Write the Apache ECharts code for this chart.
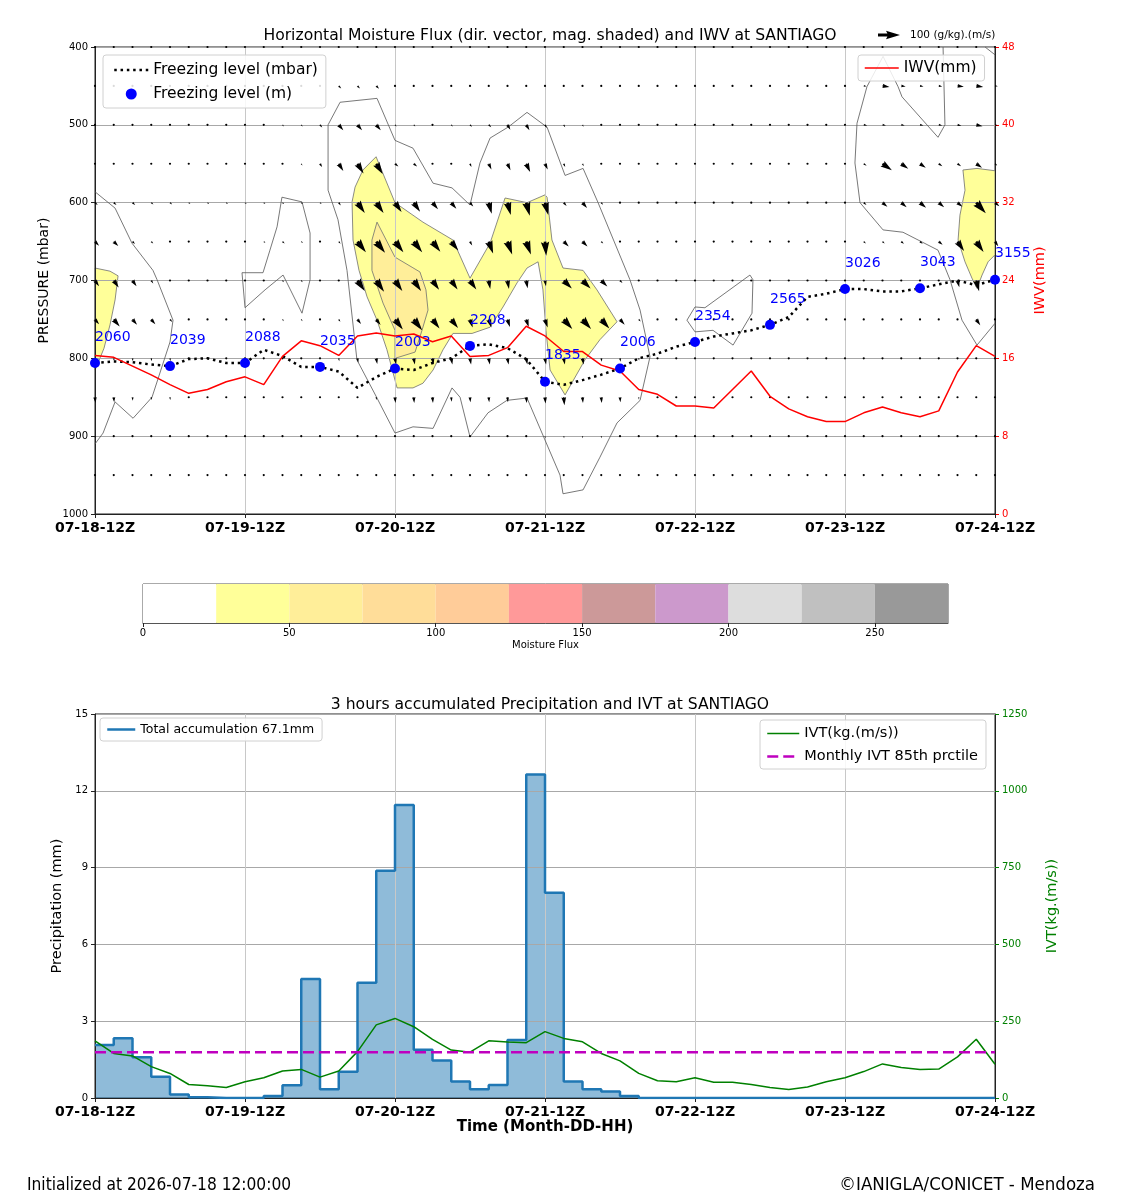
<!DOCTYPE html>
<html>
<head>
<meta charset="utf-8">
<title>Moisture flux, IWV and IVT - SANTIAGO</title>
<script src="https://cdn.jsdelivr.net/npm/echarts@6/dist/echarts.min.js"></script>
<style>
  html, body { margin: 0; padding: 0; background: #fff; }
  #chart { width: 1125px; height: 1200px; }
</style>
</head>
<body>
<div id="chart"></div>
<script>
// time axis: 3-hourly steps, index 0..48 (07-18-12Z .. 07-24-12Z)
const dayLabels = ['07-18-12Z', '07-19-12Z', '07-20-12Z', '07-21-12Z', '07-22-12Z', '07-23-12Z', '07-24-12Z'];

// pressure levels of the vector rows (mbar)
const pressureLevels = [400, 450, 500, 550, 600, 650, 700, 750, 800, 850, 900, 950];

// moisture flux magnitude per row (one value per 3h column, 0..48)
const fluxMag = [
  [3,3,3,3,3,3,3,3,3,3, 3,3,3,3,3,3,3,3,3,3, 3,3,3,3,3,3,3,3,3,3, 3,3,3,3,3,3,3,3,3,3, 4,4,4,4,4,4,4,4,4],
  [3,3,3,3,3,3,3,3,3,3, 3,3,3,16,16,18,4,4,4,4, 4,4,4,4,3,3,3,3,3,3, 3,3,3,3,3,3,3,3,3,3, 3,13,32,20,16,16,29,32,13],
  [4,4,4,4,4,4,4,4,4,4, 10,10,16,32,32,32,10,10,8,10, 13,16,26,29,16,13,10,4,4,4, 4,4,4,4,4,4,4,4,4,4, 4,16,16,16,16,16,18,29,13],
  [4,4,4,4,4,4,4,4,4,4, 4,10,18,39,52,55,20,20,8,8, 16,29,32,42,29,16,13,4,4,4, 4,4,4,4,4,4,4,4,4,4, 6,16,52,39,32,20,20,32,13],
  [16,16,16,13,13,10,10,10,10,10, 10,10,10,16,58,58,52,50,39,36, 23,52,58,62,58,20,32,13,4,4, 4,4,4,4,4,4,4,4,4,4, 4,16,29,32,36,32,29,65,26],
  [26,29,16,13,6,6,6,6,6,10, 13,10,6,13,62,65,62,62,58,52, 20,58,62,62,65,32,32,13,4,4, 4,4,4,4,4,4,4,4,4,4, 4,13,13,16,16,23,52,58,26],
  [32,39,32,16,6,6,6,6,6,6, 10,10,6,8,58,62,58,58,52,50, 50,39,39,36,26,52,52,39,16,4, 4,4,4,4,4,4,4,4,4,4, 4,4,4,4,4,4,32,50,13],
  [29,42,32,29,16,6,6,6,6,6, 10,10,6,13,26,32,58,62,52,50, 39,39,36,36,39,58,58,55,32,13, 4,4,4,4,4,4,4,4,4,4, 4,4,4,4,4,4,8,32,6],
  [13,13,13,13,13,4,4,4,4,4, 4,4,4,13,20,26,29,29,29,29, 29,29,29,29,29,29,29,16,16,10, 4,4,4,4,4,4,4,4,4,4, 4,4,4,4,4,4,4,4,4],
  [26,23,16,13,13,4,4,4,4,4, 4,4,4,4,4,13,26,26,26,20, 23,23,23,26,29,36,26,26,23,10, 4,4,4,4,4,4,4,4,4,4, 4,4,4,4,4,4,4,4,8],
  [10,4,4,4,4,4,4,4,4,4, 4,4,4,4,4,4,4,4,4,4, 4,4,4,4,10,10,10,10,4,4, 4,4,4,4,4,4,4,4,4,4, 4,4,4,4,4,4,4,4,4],
  [3,3,3,3,3,3,3,3,3,3, 3,3,3,3,3,3,3,3,3,3, 3,3,3,3,3,8,8,3,3,3, 3,3,3,3,3,3,3,3,3,3, 3,3,3,3,3,3,3,3,3]
];

// arrow direction per row, degrees from east (negative = pointing down / southward)
const fluxDir = [
  [-20,-20,-20,-20,-20,-20,-20,-20,-20,-20, -20,-20,-20,-20,-20,-20,-20,-20,-20,-20, -20,-20,-20,-20,-20,-20,-20,-20,-20,-20, -20,-20,-20,-20,-20,-20,-20,-20,-20,-20, -20,-8,-8,-8,-8,-8,-8,-8,-8],
  [-30,-30,-30,-30,-30,-30,-30,-30,-30,-30, -30,-30,-30,-45,-45,-45,-40,-40,-40,-40, -40,-40,-40,-40,-20,-20,-20,-20,-20,-20, -20,-20,-20,-20,-20,-20,-20,-20,-20,-20, -20,-8,-8,-8,-8,-8,-8,-8,-8],
  [-30,-30,-30,-30,-30,-30,-30,-30,-30,-30, -50,-50,-50,-50,-50,-50,-45,-45,-45,-45, -45,-45,-60,-60,-60,-60,-60,-20,-20,-20, -20,-20,-20,-20,-20,-20,-20,-20,-20,-20, -20,-12,-12,-12,-12,-12,-12,-12,-12],
  [-30,-30,-30,-30,-30,-30,-30,-30,-30,-30, -30,-58,-58,-58,-58,-58,-40,-40,-40,-40, -65,-65,-65,-65,-65,-65,-65,-30,-30,-30, -30,-30,-30,-30,-30,-30,-30,-30,-30,-30, -35,-35,-35,-35,-35,-35,-35,-35,-35],
  [-40,-40,-40,-40,-40,-40,-40,-40,-40,-40, -40,-40,-40,-55,-55,-55,-55,-55,-50,-50, -50,-75,-75,-75,-75,-50,-50,-50,-30,-30, -30,-30,-30,-30,-30,-30,-30,-30,-30,-30, -30,-40,-40,-40,-40,-40,-40,-48,-40],
  [-45,-45,-45,-45,-40,-40,-40,-40,-40,-40, -40,-40,-40,-52,-52,-52,-52,-52,-52,-52, -60,-70,-70,-70,-85,-45,-45,-45,-30,-30, -30,-30,-30,-30,-30,-30,-30,-30,-30,-30, -30,-40,-40,-40,-40,-40,-55,-55,-55],
  [-55,-55,-55,-55,-50,-50,-50,-50,-50,-50, -50,-50,-50,-50,-55,-55,-55,-55,-55,-55, -55,-80,-80,-80,-80,-45,-45,-45,-45,-40, -40,-40,-40,-40,-40,-40,-40,-40,-40,-40, -40,-40,-40,-40,-40,-40,-75,-75,-75],
  [-50,-50,-50,-50,-50,-55,-55,-55,-55,-55, -55,-55,-55,-55,-52,-52,-52,-52,-52,-52, -72,-72,-72,-72,-72,-48,-48,-48,-48,-48, -45,-45,-45,-45,-45,-45,-45,-45,-45,-45, -45,-45,-45,-45,-45,-45,-55,-55,-55],
  [-80,-80,-80,-80,-80,-80,-80,-80,-80,-80, -80,-80,-80,-80,-80,-80,-80,-80,-80,-80, -80,-80,-80,-80,-80,-80,-80,-80,-80,-80, -80,-80,-80,-80,-80,-80,-80,-80,-80,-80, -80,-80,-80,-80,-80,-80,-80,-80,-80],
  [-85,-85,-85,-85,-85,-85,-85,-85,-85,-85, -85,-85,-85,-85,-85,-85,-85,-85,-85,-85, -85,-85,-85,-85,-85,-85,-85,-85,-85,-85, -85,-85,-85,-85,-85,-85,-85,-85,-85,-85, -85,-85,-85,-85,-85,-85,-85,-85,-85],
  [-80,-80,-80,-80,-80,-80,-80,-80,-80,-80, -80,-80,-80,-80,-80,-80,-80,-80,-80,-80, -80,-80,-80,-80,-80,-80,-80,-80,-80,-80, -80,-80,-80,-80,-80,-80,-80,-80,-80,-80, -80,-80,-80,-80,-80,-80,-80,-80,-80],
  [-60,-60,-60,-60,-60,-60,-60,-60,-60,-60, -60,-60,-60,-60,-60,-60,-60,-60,-60,-60, -60,-60,-60,-60,-60,-60,-60,-60,-60,-60, -60,-60,-60,-60,-60,-60,-60,-60,-60,-60, -60,-60,-60,-60,-60,-60,-60,-60,-60]
];

// shaded flux areas, vertices as [time index, pressure]
const fluxAbove25 = [
  [[0,684],[0.8,688],[1.23,694],[1.07,725],[0.8,757],[0.48,787],[0.11,809],[0,815]],
  [[14.99,541],[16,600],[17.49,625],[19.09,648],[20,697],[21.07,652],[21.87,594],[23.04,600],[24,590],
   [24.11,593],[24.37,648],[24.96,684],[26.03,687],[26.77,712],[27.84,753],[26.93,776],[26.13,802],
   [25.07,847],[24.27,815],[24.05,764],[23.89,712],[23.63,676],[23.04,684],[22.51,703],[21.76,734],
   [21.07,760],[20.11,768],[19.09,768],[18.56,789],[18.03,815],[17.49,832],[16.96,838],[16.11,838],
   [16,828],[15.57,789],[15.04,751],[14.51,721],[14.08,687],[13.76,648],[13.71,599],[13.87,580],[14.29,558]],
  [[46.29,558],[47.04,556],[48,559],[48,667],[47.63,676],[47.31,693],[47.04,710],[46.77,697],
   [46.4,676],[46.03,648],[46.13,616],[46.4,584]]
];
const fluxAbove50 = [
  [[14.77,648],[15.04,625],[16,670],[16.91,683],[17.33,689],[17.65,712],[17.76,738],[17.44,764],
   [17.07,792],[16,800],[16,764],[15.36,729],[14.77,687]]
];
// outer (thin gray) flux contour
const fluxOuterLines = [
  { closed: false, pts: [[0,586],[1.07,607],[1.97,652],[3.09,687],[3.31,699],[4.16,751],[4,779],[3.04,850],[2.03,877],[1.07,856],[0.43,896],[0,910]] },
  { closed: true, pts: [[7.84,690],[8.96,690],[9.33,661],[9.71,631],[9.97,593],[11.04,599],[11.47,639],[11.47,699],[11.04,742],[10.03,693],[9.07,712],[8,735]] },
  { closed: true, pts: [[12.43,500],[13.07,471],[15.04,466],[16,520],[16.96,530],[18.03,575],[19.04,581],[20,603],[20.53,549],
    [21.07,517],[22.03,503],[23.04,484],[24.11,503],[25.07,565],[26.03,556],[26.83,600],[28.53,699],[29.07,738],[29.6,798],
    [29.07,854],[27.84,883],[26.93,927],[26.03,969],[24.96,974],[24.8,950],[24,905],[23.04,851],[21.97,854],[20.96,870],
    [20,901],[19.47,850],[19.04,838],[18.03,890],[16.96,888],[16,896],[15.04,851],[13.97,802],[13.44,687],[12.96,622],[12.43,584]] },
  { closed: true, pts: [[31.57,751],[32,734],[32.53,735],[34.93,693],[35.09,699],[35.04,742],[34.03,783],[32.96,764],[32,766]] },
  { closed: false, pts: [[45.23,400],[45.33,500],[44.96,516],[43.04,464],[42.83,451],[42.03,412],[41.17,451],[40.64,498],
    [40.53,549],[40.8,600],[42.03,635],[43.09,638],[44.96,661],[45.6,699],[46.24,751],[47.04,783],[48,755]] },
  { closed: false, pts: [[47.47,400],[48,410]] }
];

// freezing level (mbar), every 3h
const freezingMbar = [806, 804, 805, 808, 810, 801, 800, 806, 806, 789, 797, 811, 811, 817, 838, 824, 813,
  815, 806, 800, 784, 782, 787, 801, 830, 834, 828, 821, 813, 800, 794, 785, 779, 772, 768, 764, 757, 747,
  721, 717, 711, 711, 714, 714, 710, 705, 700, 706, 699];
// freezing level height (m) at 12h marks
const freezingMarkIdx = [0, 4, 8, 12, 16, 20, 24, 28, 32, 36, 40, 44, 48];
const freezingHeightM = [2060, 2039, 2088, 2035, 2003, 2208, 1835, 2006, 2354, 2565, 3026, 3043, 3155];

// integrated water vapour (mm)
const iwv = [16.3, 16.1, 15.2, 14.3, 13.3, 12.4, 12.8, 13.6, 14.1, 13.3, 16.2, 17.8, 17.3, 16.3, 18.3, 18.6,
  18.3, 18.5, 17.7, 18.3, 16.2, 16.3, 17.1, 19.3, 18.3, 16.7, 16.7, 15.3, 14.7, 12.8, 12.3, 11.1, 11.1, 10.9,
  12.8, 14.7, 12.1, 10.8, 10.0, 9.5, 9.5, 10.4, 11.0, 10.4, 10.0, 10.6, 14.6, 17.3, 16.2];

// 3h accumulated precipitation (mm), one per interval
const precip = [2.07, 2.33, 1.59, 0.83, 0.14, 0.03, 0, 0, 0, 0.08, 0.5, 4.65, 0.34, 1.03, 4.5, 8.88, 11.45,
  1.88, 1.46, 0.64, 0.34, 0.51, 2.27, 12.64, 8.02, 0.64, 0.34, 0.25, 0.08, 0, 0, 0, 0, 0, 0, 0, 0, 0, 0, 0,
  0, 0, 0, 0, 0, 0, 0, 0];

// integrated vapour transport
const ivt = [186, 145, 137, 102, 80, 44, 40, 34, 53, 66, 88, 93, 68, 88, 151, 238, 259, 232, 191, 156, 149,
  186, 182, 180, 216, 194, 183, 145, 121, 80, 56, 53, 66, 51, 51, 44, 34, 28, 36, 53, 66, 86, 111, 99, 93,
  94, 134, 191, 110];
const ivt85 = 149;

// colour bar
const cbEdges = [0, 25, 50, 75, 100, 125, 150, 175, 200, 225, 250, 275];
const cbColors = ['#ffffff', '#ffff99', '#ffee99', '#ffdd99', '#ffcc99', '#ff9999', '#cc9999', '#cc99cc',
  '#dddddd', '#c0c0c0', '#999999'];

// ---- drawing helpers ----
const ARROW_PX = 0.22; // px per flux unit
const SHAFT = 2.8;

function arrowPoints(x0, y0, L, deg) {
  const w = SHAFT, hl = 5 * w, hal = 4.5 * w, hw = 1.5 * w, sw = 0.5 * w;
  let s = 1, len = L;
  if (L < hl) { s = L / hl; len = hl; }
  const loc = [[0, -sw], [len - hal, -sw], [len - hl, -hw], [len, 0], [len - hl, hw], [len - hal, sw], [0, sw]];
  const a = deg * Math.PI / 180, ca = Math.cos(a), sa = Math.sin(a);
  return loc.map(([u, v]) => [x0 + s * (u * ca + v * sa), y0 + s * (-u * sa + v * ca)]);
}

const arrowData = [];
pressureLevels.forEach((p, r) => {
  fluxMag[r].forEach((m, c) => arrowData.push([c, p, m, fluxDir[r][c]]));
});

const FONT = 'DejaVu Sans';
const timeLabel = v => dayLabels[v / 8] || '';
const plain = v => String(v);
const legendBox = {
  backgroundColor: 'rgba(255,255,255,0.85)', borderColor: '#d0d0d0', borderWidth: 1, borderRadius: 3, z: 10,
  lineStyle: { width: 'inherit' }
};
const noDot = { opacity: 0 };

const option = {
  animation: false,
  textStyle: { fontFamily: FONT, color: '#000' },
  title: [
    { text: 'Horizontal Moisture Flux (dir. vector, mag. shaded) and IWV at SANTIAGO', left: 545, top: 23, textAlign: 'center',
      textStyle: { fontSize: 15.6, fontWeight: 'normal', fontFamily: FONT, color: '#000' } },
    { text: '3 hours accumulated Precipitation and IVT at SANTIAGO', left: 545, top: 692, textAlign: 'center',
      textStyle: { fontSize: 15.6, fontWeight: 'normal', fontFamily: FONT, color: '#000' } },
    { text: 'Initialized at 2026-07-18 12:00:00', left: 22, top: 1172,
      textStyle: { fontSize: 17.2, fontWeight: 'normal', fontFamily: 'DejaVu Sans Condensed', color: '#000' } },
    { text: '©IANIGLA/CONICET - Mendoza', right: 25, top: 1171,
      textStyle: { fontSize: 18.5, fontWeight: 'normal', fontFamily: 'DejaVu Sans Condensed', color: '#000' } }
  ],
  legend: [
    Object.assign({ data: [{ name: 'Freezing level (mbar)', itemStyle: noDot }, { name: 'Freezing level (m)', icon: 'circle' }],
      left: 103, top: 55, orient: 'vertical', itemWidth: 34, itemHeight: 11, itemGap: 8, padding: [7, 8, 6, 10],
      textStyle: { fontSize: 15.5, fontFamily: FONT, color: '#000' } }, legendBox),
    Object.assign({ data: [{ name: 'IWV(mm)', itemStyle: noDot }], left: 858, top: 55, itemWidth: 34, itemHeight: 11,
      padding: [5, 8, 5, 6], textStyle: { fontSize: 15.5, fontFamily: FONT, color: '#000' } }, legendBox),
    Object.assign({ data: [{ name: 'Total accumulation 67.1mm', itemStyle: noDot }], left: 100, top: 718,
      itemWidth: 28, itemHeight: 10, padding: [5, 8, 5, 6], textStyle: { fontSize: 12.5, fontFamily: FONT, color: '#000' } }, legendBox),
    Object.assign({ data: [{ name: 'IVT(kg.(m/s))', itemStyle: noDot }, { name: 'Monthly IVT 85th prctile', itemStyle: noDot }],
      left: 760, top: 720, orient: 'vertical', itemWidth: 32, itemHeight: 11, itemGap: 8, padding: [6, 8, 5, 6],
      textStyle: { fontSize: 14.5, fontFamily: FONT, color: '#000' } }, legendBox)
  ],
  grid: [
    { left: 95, top: 47, width: 900, height: 467, show: true, borderColor: '#222', borderWidth: 1, backgroundColor: 'transparent' },
    { left: 95, top: 714, width: 900, height: 384, show: true, borderColor: '#222', borderWidth: 1, backgroundColor: 'transparent' },
    { left: 143, top: 584, width: 805, height: 39, show: true, borderColor: '#555', borderWidth: 1, backgroundColor: 'transparent' }
  ],
  xAxis: [
    { gridIndex: 0, type: 'value', min: 0, max: 48, interval: 8, z: 2,
      axisLine: { lineStyle: { color: '#222' } }, axisTick: { length: 4, lineStyle: { color: '#222' } },
      axisLabel: { formatter: timeLabel, fontSize: 14, fontWeight: 'bold', color: '#000', margin: 7 },
      splitLine: { show: true, lineStyle: { color: '#c8c8c8', width: 1 } } },
    { gridIndex: 1, type: 'value', min: 0, max: 48, interval: 8, z: 2,
      name: 'Time (Month-DD-HH)', nameLocation: 'middle', nameGap: 22,
      nameTextStyle: { fontSize: 15, fontWeight: 'bold', color: '#000' },
      axisLine: { lineStyle: { color: '#222' } }, axisTick: { length: 4, lineStyle: { color: '#222' } },
      axisLabel: { formatter: timeLabel, fontSize: 14, fontWeight: 'bold', color: '#000', margin: 7 },
      splitLine: { show: true, lineStyle: { color: '#c8c8c8', width: 1 } } },
    { gridIndex: 2, type: 'value', min: 0, max: 275, interval: 50,
      name: 'Moisture Flux', nameLocation: 'middle', nameGap: 17, nameTextStyle: { fontSize: 10, color: '#000' },
      axisLine: { lineStyle: { color: '#555' } }, axisTick: { length: 4, lineStyle: { color: '#222' } },
      axisLabel: { fontSize: 10, color: '#000', margin: 5, showMaxLabel: false }, splitLine: { show: false } }
  ],
  yAxis: [
    { gridIndex: 0, type: 'value', inverse: true, min: 400, max: 1000, interval: 100, z: 2,
      name: 'PRESSURE (mbar)', nameLocation: 'middle', nameGap: 40, nameTextStyle: { fontSize: 14, color: '#000' },
      axisLine: { show: true, lineStyle: { color: '#222' } }, axisTick: { show: true, length: 4, lineStyle: { color: '#222' } },
      axisLabel: { fontSize: 10, color: '#000', margin: 7, formatter: plain },
      splitLine: { show: true, lineStyle: { color: '#a8a8a8', width: 1 } } },
    { gridIndex: 0, type: 'value', position: 'right', min: 0, max: 48, interval: 8, z: 2,
      name: 'IWV(mm)', nameLocation: 'middle', nameGap: 38, nameTextStyle: { fontSize: 14.5, color: '#ff0000' },
      axisLine: { show: true, lineStyle: { color: '#222' } }, axisTick: { show: true, length: 4, lineStyle: { color: '#ff0000' } },
      axisLabel: { fontSize: 10, color: '#ff0000', margin: 7 }, splitLine: { show: false } },
    { gridIndex: 2, type: 'value', min: 0, max: 1, show: false },
    { gridIndex: 1, type: 'value', min: 0, max: 15, interval: 3, z: 2,
      name: 'Precipitation (mm)', nameLocation: 'middle', nameGap: 26, nameTextStyle: { fontSize: 14.5, color: '#000' },
      axisLine: { show: true, lineStyle: { color: '#222' } }, axisTick: { show: true, length: 4, lineStyle: { color: '#222' } },
      axisLabel: { fontSize: 10, color: '#000', margin: 7 },
      splitLine: { show: true, lineStyle: { color: '#a8a8a8', width: 1 } } },
    { gridIndex: 1, type: 'value', position: 'right', min: 0, max: 1250, interval: 250, z: 2,
      name: 'IVT(kg.(m/s))', nameLocation: 'middle', nameGap: 50, nameTextStyle: { fontSize: 14.5, color: '#008000' },
      axisLine: { show: true, lineStyle: { color: '#222' } }, axisTick: { show: true, length: 4, lineStyle: { color: '#008000' } },
      axisLabel: { fontSize: 10, color: '#008000', margin: 7, formatter: plain }, splitLine: { show: false } }
  ],
  graphic: [
    { type: 'polygon', shape: { points: arrowPoints(878, 35, 100 * ARROW_PX, 0) }, style: { fill: '#000' } },
    { type: 'text', x: 910, y: 35, style: { text: '100 (g/kg).(m/s)', font: '10.5px DejaVu Sans', fill: '#000', verticalAlign: 'middle' } }
  ],
  series: [
    // shaded flux > 25 and > 50
    { type: 'custom', xAxisIndex: 0, yAxisIndex: 0, z: 1, silent: true,
      data: fluxAbove25.map((_, i) => [i]),
      renderItem: (params, api) => ({ type: 'polygon',
        shape: { points: fluxAbove25[params.dataIndex].map(q => api.coord(q)) },
        style: { fill: cbColors[1], stroke: '#6e6e6e', lineWidth: 0.8 } }) },
    { type: 'custom', xAxisIndex: 0, yAxisIndex: 0, z: 1, silent: true,
      data: fluxAbove50.map((_, i) => [i]),
      renderItem: (params, api) => ({ type: 'polygon',
        shape: { points: fluxAbove50[params.dataIndex].map(q => api.coord(q)) },
        style: { fill: cbColors[2], stroke: '#6e6e6e', lineWidth: 0.8 } }) },
    // outer contour lines
    { type: 'custom', xAxisIndex: 0, yAxisIndex: 0, z: 3, silent: true,
      data: fluxOuterLines.map((_, i) => [i]),
      renderItem: (params, api) => {
        const c = fluxOuterLines[params.dataIndex];
        return { type: c.closed ? 'polygon' : 'polyline',
          shape: { points: c.pts.map(q => api.coord(q)) },
          style: { fill: null, stroke: '#555', lineWidth: 0.8 } };
      } },
    // flux vectors
    { type: 'custom', xAxisIndex: 0, yAxisIndex: 0, z: 3, silent: true,
      data: arrowData, encode: { x: 0, y: 1 },
      renderItem: (params, api) => {
        const pt = api.coord([api.value(0), api.value(1)]);
        const L = api.value(2) * ARROW_PX;
        if (L < 2.2) {
          return { type: 'circle', shape: { cx: pt[0], cy: pt[1], r: 1.1 }, style: { fill: '#000' } };
        }
        return { type: 'polygon', shape: { points: arrowPoints(pt[0], pt[1], L, api.value(3)) }, style: { fill: '#000' } };
      } },
    { name: 'Freezing level (mbar)', type: 'line', xAxisIndex: 0, yAxisIndex: 0, z: 4, symbol: 'none',
      data: freezingMbar.map((v, i) => [i, v]),
      lineStyle: { color: '#000', width: 2.5, type: [2.5, 3.8] }, itemStyle: { color: '#000' } },
    { name: 'Freezing level (m)', type: 'scatter', xAxisIndex: 0, yAxisIndex: 0, z: 5, symbolSize: 10,
      data: freezingMarkIdx.map(i => [i, freezingMbar[i]]),
      itemStyle: { color: '#0000ff', opacity: 1 },
      label: { show: true, position: [5, -21], align: 'left', verticalAlign: 'middle',
        formatter: p => String(freezingHeightM[p.dataIndex]), color: '#0000ff', fontSize: 14, fontFamily: FONT } },
    { name: 'IWV(mm)', type: 'line', xAxisIndex: 0, yAxisIndex: 1, z: 4, symbol: 'none',
      data: iwv.map((v, i) => [i, v]),
      lineStyle: { color: '#ff0000', width: 1.5 }, itemStyle: { color: '#ff0000' } },
    // colour bar
    { type: 'custom', xAxisIndex: 2, yAxisIndex: 2, silent: true,
      data: cbColors.map((_, i) => [cbEdges[i], cbEdges[i + 1]]),
      renderItem: (params, api) => {
        const a = api.coord([api.value(0), 0]);
        const b = api.coord([api.value(1), 1]);
        return { type: 'rect', shape: { x: a[0], y: b[1], width: b[0] - a[0], height: a[1] - b[1] },
          style: { fill: cbColors[params.dataIndex] } };
      } },
    // precipitation (step, filled)
    { type: 'line', xAxisIndex: 1, yAxisIndex: 3, z: 1, step: 'end', symbol: 'none', silent: true,
      data: precip.map((v, i) => [i, v]).concat([[precip.length, precip[precip.length - 1]]]),
      lineStyle: { width: 0 }, areaStyle: { color: 'rgba(31,119,180,0.5)', opacity: 1 } },
    { name: 'Total accumulation 67.1mm', type: 'line', xAxisIndex: 1, yAxisIndex: 3, z: 3, step: 'end', symbol: 'none',
      data: precip.map((v, i) => [i, v]).concat([[precip.length, precip[precip.length - 1]]]),
      lineStyle: { color: '#1f77b4', width: 2.5 }, itemStyle: { color: '#1f77b4' } },
    { name: 'IVT(kg.(m/s))', type: 'line', xAxisIndex: 1, yAxisIndex: 4, z: 4, symbol: 'none',
      data: ivt.map((v, i) => [i, v]),
      lineStyle: { color: '#008000', width: 1.5 }, itemStyle: { color: '#008000' } },
    { name: 'Monthly IVT 85th prctile', type: 'line', xAxisIndex: 1, yAxisIndex: 4, z: 4, symbol: 'none',
      data: [[0, ivt85], [48, ivt85]],
      lineStyle: { color: '#bf00bf', width: 2.5, type: [11, 5] }, itemStyle: { color: '#bf00bf' } }
  ]
};

const chart = echarts.init(document.getElementById('chart'));
chart.setOption(option);
</script>
</body>
</html>
